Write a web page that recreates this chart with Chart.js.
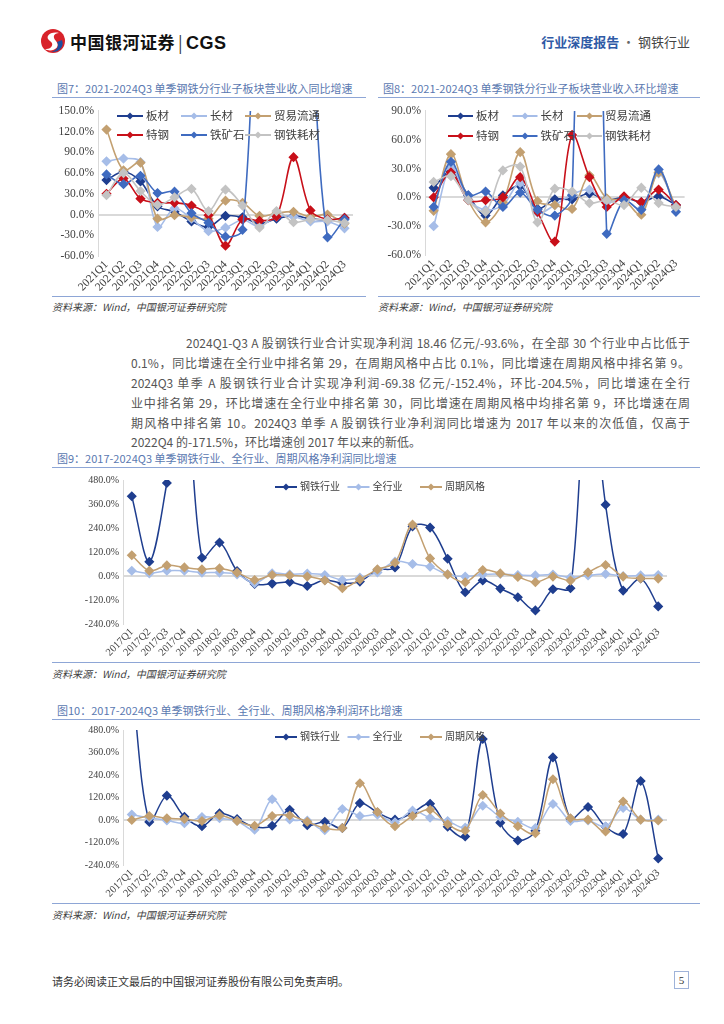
<!DOCTYPE html>
<html>
<head>
<meta charset="utf-8">
<script src="https://cdn.jsdelivr.net/npm/chart.js@4"></script>
<style>
  body { margin: 0; background: #fff; }
  #page { position: relative; width: 724px; height: 1024px; overflow: hidden; background: #fff;
    font-family: "Noto Sans CJK SC", "Liberation Serif", sans-serif; color: #333; }
  .abs { position: absolute; }
  .figTitle { position: absolute; font-size: 11px; color: #5a78b0; white-space: nowrap; line-height: 14px; }
  .rule { position: absolute; height: 0; border-top: 1.5px solid #8ea6d6; }
  .source { position: absolute; font-size: 10px; font-style: italic; color: #404040; white-space: nowrap; }
  canvas { position: absolute; }
  .para { position: absolute; font-size: 12px; line-height: 20px; color: #555; white-space: nowrap;
    text-align: justify; text-align-last: justify; }
</style>
</head>
<body>
<div id="page">
  <!-- header -->
  <svg class="abs" style="left:40px;top:28px" width="26" height="26" viewBox="0 0 26 26">
    <circle cx="13" cy="13" r="12" fill="#d8232a"/>
    <path d="M19 5 C10 3 4 9 10 13 C15 16 11 22 5 21 C11 25 22 20 16 13 C12 9 14 5 19 5 Z" fill="#fff"/>
    <path d="M17 14 C20 18 16 23 11 24 C18 25 25 19 22 12 Z" fill="#1d4fa0"/>
  </svg>
  <div class="abs" style="left:70px;top:29px;font-size:17px;font-weight:bold;color:#111;letter-spacing:0.5px;white-space:nowrap">中国银河证券<span style="font-weight:normal;color:#333;margin:0 3px">|</span><span style="font-family:'Liberation Sans';font-size:18px">CGS</span></div>
  <div class="abs" style="left:540px;top:32px;width:150px;text-align:right;font-size:13px;white-space:nowrap"><span style="color:#2f5aa6;font-weight:bold">行业深度报告</span><span style="color:#666"> · </span><span style="color:#444">钢铁行业</span></div>

  <!-- figure 7 / 8 -->
  <div class="figTitle" style="left:57px;top:81px">图7：2021-2024Q3 单季钢铁分行业子板块营业收入同比增速</div>
  <div class="rule" style="left:52px;top:97px;width:314px"></div>
  <canvas id="fig7" width="316" height="195" style="left:52px;top:100px"></canvas>
  <div class="rule" style="left:52px;top:296px;width:314px"></div>
  <div class="source" style="left:52px;top:299px">资料来源：Wind，中国银河证券研究院</div>

  <div class="figTitle" style="left:383px;top:81px">图8：2021-2024Q3 单季钢铁分行业子板块营业收入环比增速</div>
  <div class="rule" style="left:378px;top:97px;width:322px"></div>
  <canvas id="fig8" width="322" height="195" style="left:378px;top:100px"></canvas>
  <div class="rule" style="left:378px;top:296px;width:322px"></div>
  <div class="source" style="left:378px;top:299px">资料来源：Wind，中国银河证券研究院</div>

  <!-- body text -->
  <div class="para" style="left:186px;top:333px;width:504px">2024Q1-Q3 A 股钢铁行业合计实现净利润 18.46 亿元/-93.6%，在全部 30 个行业中占比低于</div>
  <div class="para" style="left:131px;top:353px;width:559px">0.1%，同比增速在全行业中排名第 29，在周期风格中占比 0.1%，同比增速在周期风格中排名第 9。</div>
  <div class="para" style="left:131px;top:373px;width:559px">2024Q3 单季 A 股钢铁行业合计实现净利润-69.38 亿元/-152.4%，环比-204.5%，同比增速在全行</div>
  <div class="para" style="left:131px;top:393px;width:559px">业中排名第 29，环比增速在全行业中排名第 30，同比增速在周期风格中均排名第 9，环比增速在周</div>
  <div class="para" style="left:131px;top:413px;width:559px">期风格中排名第 10。2024Q3 单季 A 股钢铁行业净利润同比增速为 2017 年以来的次低值，仅高于</div>
  <div class="para" style="left:131px;top:432px;text-align:left;text-align-last:left">2022Q4 的-171.5%，环比增速创 2017 年以来的新低。</div>

  <!-- figure 9 -->
  <div class="figTitle" style="left:57px;top:451px">图9：2017-2024Q3 单季钢铁行业、全行业、周期风格净利润同比增速</div>
  <div class="rule" style="left:52px;top:467px;width:648px"></div>
  <canvas id="fig9" width="648" height="190" style="left:52px;top:470px"></canvas>
  <div class="rule" style="left:52px;top:662px;width:648px"></div>
  <div class="source" style="left:52px;top:666px">资料来源：Wind，中国银河证券研究院</div>

  <!-- figure 10 -->
  <div class="figTitle" style="left:57px;top:703px">图10：2017-2024Q3 单季钢铁行业、全行业、周期风格净利润环比增速</div>
  <div class="rule" style="left:52px;top:719px;width:648px"></div>
  <canvas id="fig10" width="648" height="182" style="left:52px;top:720px"></canvas>
  <div class="rule" style="left:52px;top:903px;width:648px"></div>
  <div class="source" style="left:52px;top:907px">资料来源：Wind，中国银河证券研究院</div>

  <!-- footer -->
  <div class="abs" style="left:52px;top:973px;font-size:11px;color:#333;white-space:nowrap">请务必阅读正文最后的中国银河证券股份有限公司免责声明。</div>
  <div class="abs" style="left:674px;top:971px;width:13px;height:16px;border:1px solid #9fb3d9;font-size:11px;line-height:16px;text-align:center;color:#333;font-family:'Liberation Serif'">5</div>
</div>

<script>
/* Tick labels */
const quarters21 = ["2021Q1", "2021Q2", "2021Q3", "2021Q4", "2022Q1", "2022Q2", "2022Q3", "2022Q4",
  "2023Q1", "2023Q2", "2023Q3", "2023Q4", "2024Q1", "2024Q2", "2024Q3"];
const quarters17 = ["2017Q1", "2017Q2", "2017Q3", "2017Q4", "2018Q1", "2018Q2", "2018Q3", "2018Q4",
  "2019Q1", "2019Q2", "2019Q3", "2019Q4", "2020Q1", "2020Q2", "2020Q3", "2020Q4",
  "2021Q1", "2021Q2", "2021Q3", "2021Q4", "2022Q1", "2022Q2", "2022Q3", "2022Q4",
  "2023Q1", "2023Q2", "2023Q3", "2023Q4", "2024Q1", "2024Q2", "2024Q3"];

/* Fig 7: revenue YoY by sub-sector (%) */
const yoyPlate = [50, 62, 48, 12, 4, -10, -18, -2, -4, -13, -6, -2, -6, -8, -5];
const yoyLong = [77, 81, 76, -18, 9, -6, -24, -19, -8, -17, -3, -3, -10, -10, -20];
const yoyTrade = [123, 64, 75, -6, -1, -4, -6, 20, 17, -2, 2, 4, -3, 0, -13];
const yoySpecial = [30, 52, 23, 17, 17, 13, -1, -45, -7, -9, -3, 83, 6, -7, -5];
const yoyOre = [58, 44, 56, 31, 33, 2, -12, -32, -22, 450, 700, 600, 300, -33, -7];
const yoyConsum = [28, 60, 34, 14, 25, 37, 5, 36, 13, -19, 5, -11, -7, -8, -12];

/* Fig 8: revenue QoQ by sub-sector (%) */
const qoqPlate = [10, 27, 2, -19, 2, 12, -12, -2, -2, 4, -3, 0, -5, 1, -8];
const qoqLong = [-30, 31, -2, -13, -8, 15, -16, -8, 3, 8, -5, -2, -12, 25, -11];
const qoqTrade = [-14, 45, -3, -26, -5, 47, -4, -8, -12, 23, -1, -3, -18, 26, -10];
const qoqSpecial = [0, 26, -3, -3, 0, 21, -15, -46, 65, 21, -10, 1, -5, 8, -8];
const qoqOre = [-10, 37, 2, 6, -10, 5, -13, -19, 2, 1000, -38, -3, -13, 29, -15];
const qoqConsum = [16, 22, -3, -15, 28, 32, -26, 9, 6, -6, -3, -8, 10, -6, -10];

/* Fig 9: net profit YoY (%) */
const profitYoySteel = [399, 71, 465, 1000, 91, 167, 25, -40, -38, -30, -50, -20, -36, -28, 30, 43,
  248, 242, 86, -81, -22, -63, -106, -172, -66, -61, 1100, 356, -73, -12, -152];
const profitYoyAll = [26, 13, 26, 26, 17, 17, 8, -36, 13, 8, 12, 5, -20, -8, 18, 72,
  60, 46, 8, -3, 8, 10, 5, 3, 7, -7, 3, 10, 0, 3, 5];
const profitYoyCycle = [104, 26, 53, 43, 33, 38, 17, -20, 5, 3, -3, -22, -61, -17, 33, 66,
  257, 88, 8, -31, 30, 13, -5, -31, -3, -23, 18, 55, -3, -12, -13];

/* Fig 10: net profit QoQ (%) */
const profitQoqSteel = [750, -10, 130, 17, -33, 36, 5, -36, -31, 55, -28, -9, -43, 90, 40, 2,
  38, 87, -36, -88, 432, -14, -109, -57, 334, 7, 69, -36, -75, 208, -205];
const profitQoqAll = [29, 12, -2, -17, 16, 9, -5, -52, 111, 3, -3, -54, 59, 21, 28, -12,
  50, 12, -5, -40, 76, 16, -9, -43, 85, -5, -2, -35, 64, 2, 3];
const profitQoqCycle = [0, 21, 9, 5, -5, 24, -5, -31, 21, 24, -9, -43, -43, 196, 43, -33,
  21, 55, -23, -57, 133, 35, -33, -71, 217, 9, 2, -61, 99, 2, -3];

const NAVY = "#1f3e8f";
const LIGHT = "#a6bde8";
const TAN = "#c3a071";
const RED = "#c8101a";
const BLUE = "#3f6bc0";
const GRAY = "#c3c3c3";
const FONT = "'Liberation Serif', 'Noto Sans CJK SC', serif";

/* Legend drawn inside the plot, Excel style: line + diamond + text */
const inlineLegend = {
  id: "inlineLegend",
  afterDatasetsDraw(chart, args, opts) {
    const ctx = chart.ctx;
    ctx.save();
    ctx.font = `${opts.fontSize}px ${FONT}`;
    ctx.textBaseline = "middle";
    chart.data.datasets.forEach((ds, i) => {
      const x = opts.x + (i % opts.cols) * opts.colW;
      const y = opts.y + Math.floor(i / opts.cols) * opts.rowH;
      ctx.strokeStyle = ds.borderColor;
      ctx.lineWidth = 2;
      ctx.beginPath();
      ctx.moveTo(x, y);
      ctx.lineTo(x + opts.lineW, y);
      ctx.stroke();
      const cx = x + opts.lineW / 2;
      const r = 3.5;
      ctx.fillStyle = ds.borderColor;
      ctx.beginPath();
      ctx.moveTo(cx, y - r);
      ctx.lineTo(cx + r, y);
      ctx.lineTo(cx, y + r);
      ctx.lineTo(cx - r, y);
      ctx.closePath();
      ctx.fill();
      ctx.fillStyle = "#404040";
      ctx.fillText(ds.label, x + opts.lineW + 3, y + 0.5);
    });
    ctx.restore();
  }
};

function makeChart(id, labels, series, cfg) {
  const datasets = series.map((s, i) => ({
    label: s.label,
    data: s.data,
    borderColor: s.color,
    backgroundColor: s.color,
    pointBackgroundColor: s.color,
    pointBorderColor: s.color,
    pointStyle: "rectRot",
    pointRadius: cfg.pointRadius,
    borderWidth: cfg.lineWidth,
    tension: 0.33,
    fill: false,
    /* later series on top, like Excel */
    order: series.length - i
  }));

  /* eslint-disable no-new */
  new Chart(document.getElementById(id), {
    type: "line",
    data: { labels, datasets },
    options: {
      responsive: false,
      animation: false,
      devicePixelRatio: 1,
      layout: { padding: cfg.padding },
      plugins: {
        legend: { display: false },
        tooltip: { enabled: false },
        inlineLegend: cfg.legend
      },
      scales: {
        x: {
          offset: true,
          grid: { display: false, drawTicks: false },
          border: { display: false },
          ticks: {
            autoSkip: false,
            maxRotation: 45,
            minRotation: 45,
            padding: 2,
            color: "#404040",
            font: { family: FONT, size: cfg.xFont }
          },
          afterFit: scale => { scale.height = cfg.xHeight; }
        },
        y: {
          min: cfg.min,
          max: cfg.max,
          ticks: {
            stepSize: cfg.step,
            padding: 4,
            color: "#404040",
            font: { family: FONT, size: cfg.yFont },
            callback: v => `${v.toFixed(1)}%`
          },
          grid: {
            drawTicks: false,
            lineWidth: 2,
            color: c => (c.tick && c.tick.value === 0 ? "#d9d9d9" : "rgba(0,0,0,0)")
          },
          border: { display: true, color: "#d9d9d9", width: 1 },
          afterFit: scale => { scale.width = cfg.yWidth; }
        }
      }
    },
    plugins: [inlineLegend]
  });
}

const sectorNames = ["板材", "长材", "贸易流通", "特钢", "铁矿石", "钢铁耗材"];
const sectorColors = [NAVY, LIGHT, TAN, RED, BLUE, GRAY];
const styleNames = ["钢铁行业", "全行业", "周期风格"];
const styleColors = [NAVY, LIGHT, TAN];

makeChart("fig7", quarters21,
  [yoyPlate, yoyLong, yoyTrade, yoySpecial, yoyOre, yoyConsum].map((d, i) => ({
    label: sectorNames[i], data: d, color: sectorColors[i]
  })),
  {
    min: -60, max: 150, step: 30, yWidth: 46, xHeight: 39, xFont: 11.5, yFont: 11.5,
    padding: { top: 9, right: 15, bottom: 0, left: 0 },
    pointRadius: 4, lineWidth: 1.6,
    legend: { x: 65, y: 16, cols: 3, colW: 64, rowH: 19, lineW: 26, fontSize: 11.5 }
  });

makeChart("fig8", quarters21,
  [qoqPlate, qoqLong, qoqTrade, qoqSpecial, qoqOre, qoqConsum].map((d, i) => ({
    label: sectorNames[i], data: d, color: sectorColors[i]
  })),
  {
    min: -60, max: 90, step: 30, yWidth: 47, xHeight: 40, xFont: 11.5, yFont: 11.5,
    padding: { top: 9, right: 15.4, bottom: 0, left: 0 },
    pointRadius: 4, lineWidth: 1.6,
    legend: { x: 70, y: 16, cols: 3, colW: 64.5, rowH: 20, lineW: 25, fontSize: 11.5 }
  });

makeChart("fig9", quarters17,
  [profitYoySteel, profitYoyAll, profitYoyCycle].map((d, i) => ({
    label: styleNames[i], data: d, color: styleColors[i]
  })),
  {
    min: -240, max: 480, step: 120, yWidth: 71, xHeight: 36, xFont: 10.5, yFont: 10,
    padding: { top: 9, right: 33, bottom: 0, left: 0 },
    pointRadius: 4, lineWidth: 1.5,
    legend: { x: 223, y: 17, cols: 3, colW: 72.5, rowH: 0, lineW: 22, fontSize: 10 }
  });

makeChart("fig10", quarters17,
  [profitQoqSteel, profitQoqAll, profitQoqCycle].map((d, i) => ({
    label: styleNames[i], data: d, color: styleColors[i]
  })),
  {
    min: -240, max: 480, step: 120, yWidth: 71, xHeight: 37, xFont: 10.5, yFont: 10,
    padding: { top: 7, right: 33, bottom: 0, left: 0 },
    pointRadius: 4, lineWidth: 1.5,
    legend: { x: 223, y: 17, cols: 3, colW: 72.5, rowH: 0, lineW: 22, fontSize: 10 }
  });
</script>
</body>
</html>
